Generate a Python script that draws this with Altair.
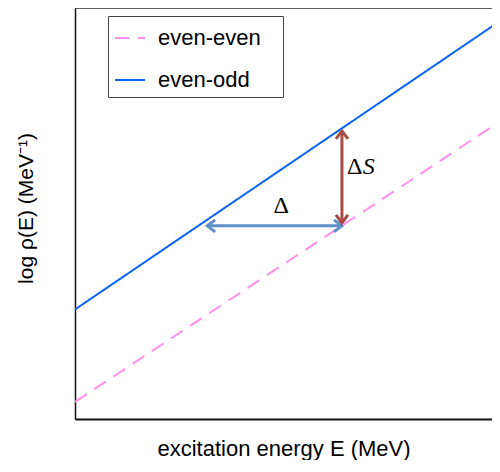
import altair as alt
import pandas as pd

# Axis ranges (arbitrary units, no tick labels in the original)
x_domain = [0, 9.81]
y_domain = [0, 9.83]

# Level-density lines
line_series = ["even-even", "even-even", "even-odd", "even-odd"]
line_x = [0, 10, 0, 10]
line_y = [0.41, 7.12, 2.62, 9.52]

# Delta arrow (horizontal shift)
delta_x = [3.11]
delta_x2 = [6.28]
delta_y = [4.62]

# Delta S arrow (vertical shift)
ds_x = [6.28]
ds_y = [4.69]
ds_y2 = [6.89]

# Arrow heads
head_x = [3.11, 6.28, 6.28, 6.28]
head_y = [4.62, 4.62, 4.69, 6.89]
head_angle = [180, 0, 90, 270]
head_kind = ["delta", "delta", "dS", "dS"]

# Annotation labels (upright and italic parts)
up_text = ["Δ", "Δ"]
up_x = [4.85, 6.58]
up_y = [5.10, 6.03]
it_text = ["S"]
it_x = [6.91]
it_y = [6.03]

lines_df = pd.DataFrame({"series": line_series, "x": line_x, "y": line_y})
delta_df = pd.DataFrame({"x": delta_x, "x2": delta_x2, "y": delta_y})
ds_df = pd.DataFrame({"x": ds_x, "y": ds_y, "y2": ds_y2})
head_df = pd.DataFrame({"x": head_x, "y": head_y, "angle": head_angle, "kind": head_kind})
up_df = pd.DataFrame({"text": up_text, "x": up_x, "y": up_y})
it_df = pd.DataFrame({"text": it_text, "x": it_x, "y": it_y})

FONT = "Liberation Sans"
BLUE_ARROW = "#5F8FC8"
RED_ARROW = "#A84B45"

xs = alt.Scale(domain=x_domain, nice=False, zero=False)
ys = alt.Scale(domain=y_domain, nice=False, zero=False)

lines = alt.Chart(lines_df).mark_line(strokeWidth=2, clip=True).encode(
    x=alt.X("x:Q", scale=xs,
            axis=alt.Axis(title="excitation energy E (MeV)", ticks=False, labels=False,
                          grid=False, domainColor="#111", domainWidth=2,
                          titleFont=FONT, titleFontSize=22, titleFontWeight="normal",
                          titleColor="black", titlePadding=19)),
    y=alt.Y("y:Q", scale=ys,
            axis=alt.Axis(title="log ρ(E) (MeV⁻¹)", ticks=False, labels=False,
                          grid=False, domainColor="#111", domainWidth=1.5,
                          titleFont=FONT, titleFontSize=21, titleFontWeight="normal",
                          titleColor="black", titlePadding=39, titleY=200)),
    color=alt.Color("series:N",
                    scale=alt.Scale(domain=["even-even", "even-odd"],
                                    range=["#FF8FEF", "#0A64F5"]),
                    legend=alt.Legend(orient="none", legendX=33, legendY=8, title=None,
                                      labelFont=FONT, labelFontSize=22, labelColor="black",
                                      symbolType="stroke", symbolSize=900,
                                      symbolStrokeWidth=2, labelOffset=12,
                                      padding=6, rowPadding=15,
                                      strokeColor="#444", fillColor="white",
                                      labelExpr="datum.label + '\u2800'")),
    strokeDash=alt.StrokeDash("series:N",
                              scale=alt.Scale(domain=["even-even", "even-odd"],
                                              range=[[14, 9], [1, 0]]),
                              legend=None),
    detail="series:N",
)

top_border = alt.Chart(pd.DataFrame({"y": [y_domain[1]]})).mark_rule(
    color="#333", strokeWidth=1.5).encode(y=alt.Y("y:Q", scale=ys))

delta_rule = alt.Chart(delta_df).mark_rule(color=BLUE_ARROW, strokeWidth=3).encode(
    x=alt.X("x:Q", scale=xs), x2="x2:Q", y=alt.Y("y:Q", scale=ys))

ds_rule = alt.Chart(ds_df).mark_rule(color=RED_ARROW, strokeWidth=3).encode(
    x=alt.X("x:Q", scale=xs), y=alt.Y("y:Q", scale=ys), y2="y2:Q")

heads = alt.Chart(head_df).mark_point(
    shape="M-1,-0.75L0,0L-1,0.75", filled=False, size=256, strokeWidth=3,
    opacity=1, strokeJoin="miter").encode(
    x=alt.X("x:Q", scale=xs), y=alt.Y("y:Q", scale=ys),
    angle=alt.Angle("angle:Q", scale=None),
    stroke=alt.Stroke("kind:N", scale=alt.Scale(domain=["delta", "dS"],
                                                 range=[BLUE_ARROW, RED_ARROW]),
                      legend=None),
)

up_labels = alt.Chart(up_df).mark_text(font="Liberation Serif", fontSize=24,
                                       color="black").encode(
    x=alt.X("x:Q", scale=xs), y=alt.Y("y:Q", scale=ys), text="text:N")

it_labels = alt.Chart(it_df).mark_text(font="Liberation Serif", fontSize=24,
                                       fontStyle="italic", color="black").encode(
    x=alt.X("x:Q", scale=xs), y=alt.Y("y:Q", scale=ys), text="text:N")

chart = alt.layer(lines, top_border, delta_rule, ds_rule, heads, up_labels,
                  it_labels).properties(
    width=417, height=411,
    autosize=alt.AutoSizeParams(type="none"),
    padding={"left": 67, "top": 0, "right": 0, "bottom": 41},
).configure_view(stroke=None).configure(background="white")

chart.save("out.html", embed_options={"renderer": "svg", "actions": False})
